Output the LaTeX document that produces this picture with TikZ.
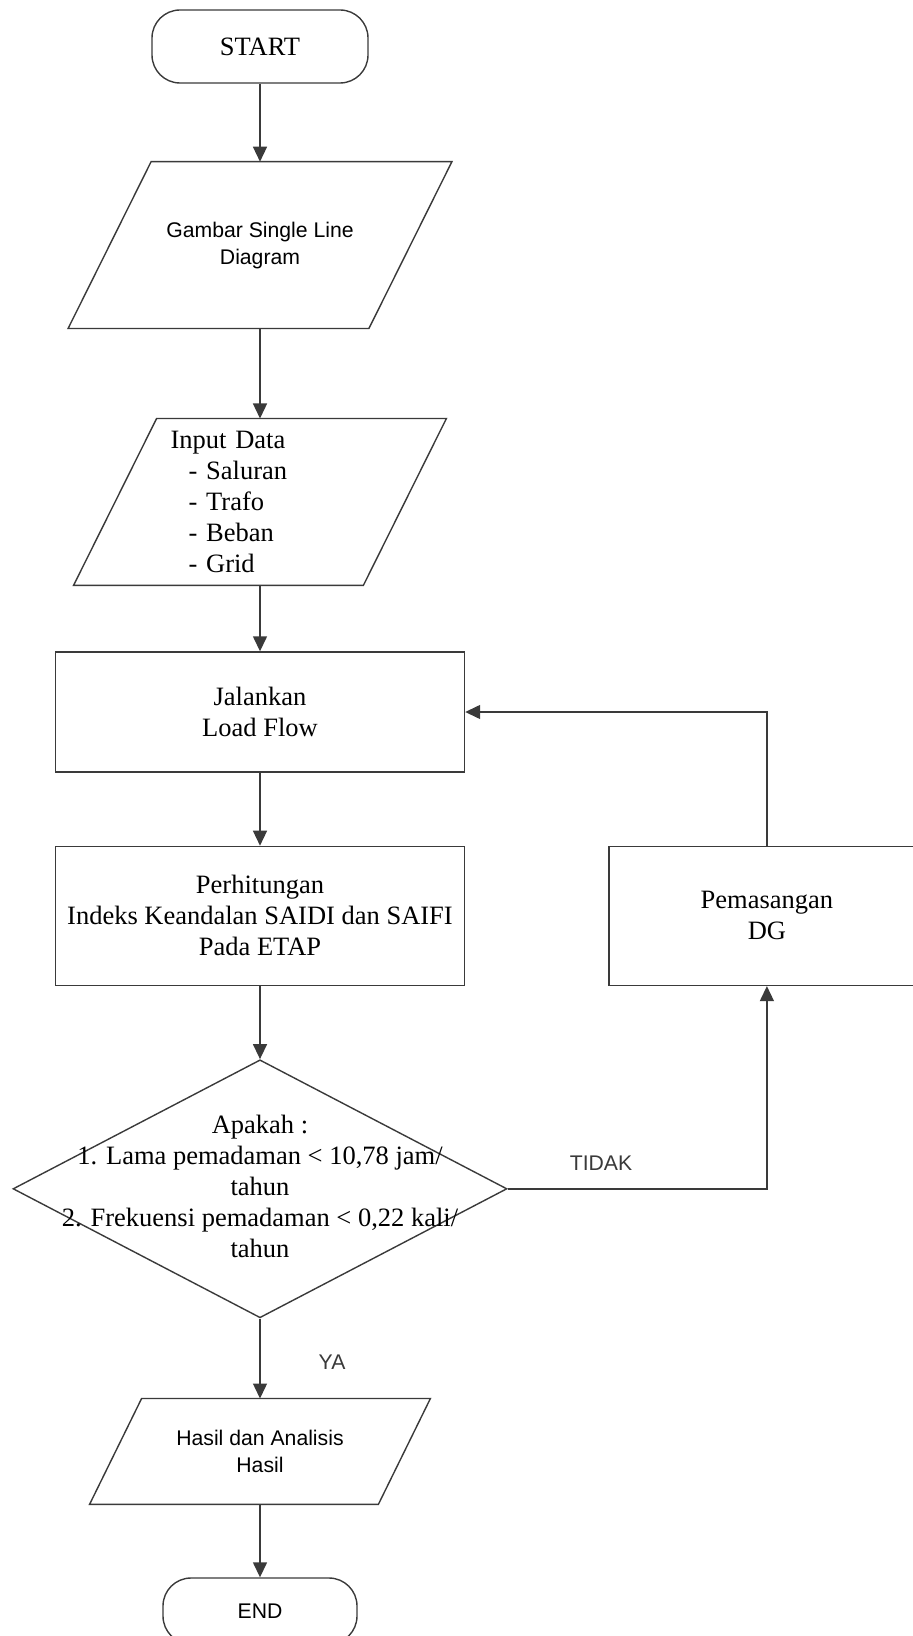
\documentclass[tikz,border=0pt]{standalone}
\usepackage{fontspec}
\setmainfont{Liberation Serif}
\setsansfont{Liberation Sans}
\usetikzlibrary{arrows.meta,positioning,shapes.geometric}
\definecolor{flowink}{HTML}{3A3A3A}
\tikzset{
  term/.style={draw=flowink, line width=0.7pt, rounded corners=14pt, minimum height=36.5pt, align=center},
  proc/.style={draw=flowink, line width=0.7pt, align=center, inner sep=2pt},
  iobox/.style={align=center, inner sep=2pt},
  cond/.style={draw=flowink, line width=0.7pt, diamond, inner sep=0pt, minimum width=247pt, minimum height=129pt},
  sans/.style={font=\sffamily\fontsize{10.6}{13.5}\selectfont},
  lbl/.style={font=\sffamily\fontsize{10.6}{13.5}\selectfont, inner sep=0pt},
  arr/.style={-{Triangle[length=7.5pt,width=7pt]}, line width=0.7pt, color=flowink},
}
\newcommand{\iopara}[2]{\draw[line width=0.7pt, flowink] ([xshift=#2]#1.north west) -- ([xshift=#2]#1.north east) -- ([xshift=-#2]#1.south east) -- ([xshift=-#2]#1.south west) -- cycle;}

\begin{document}
\begin{tikzpicture}[x=0.5pt, y=-0.5pt, font=\fontsize{13.25}{15.5}\selectfont]
    \useasboundingbox (0,0) rectangle (913,1636);
    \node[term, minimum width=108pt] (start) at (260,46.5) {START};
    \node[iobox, sans, minimum width=150pt, minimum height=83pt, below=39pt of start] (gambar) {Gambar Single Line\\Diagram};
    \node[iobox, align=left, text width=89.5pt, inner xsep=27.5pt, inner ysep=0pt, minimum height=83pt, below=45pt of gambar] (input) {Input Data\\\hspace*{9pt}- Saluran\\\hspace*{9pt}- Trafo\\\hspace*{9pt}- Beban\\\hspace*{9pt}- Grid};
    \node[proc, minimum width=204.5pt, minimum height=60pt, below=33pt of input] (jalan) {Jalankan\\Load Flow};
    \node[proc, minimum width=204.5pt, minimum height=69.5pt, below=36.5pt of jalan] (hitung) {Perhitungan\\Indeks Keandalan SAIDI dan SAIFI\\Pada ETAP};
    \node[proc, minimum width=158pt, minimum height=69.5pt, right=71.5pt of hitung] (dg) {Pemasangan\\DG};
    \node[cond, below=36.5pt of hitung] (cek) {\makebox[0pt]{\begin{tabular}{@{}c@{}}Apakah :\\1. Lama pemadaman < 10,78 jam/\\tahun\\2. Frekuensi pemadaman < 0,22 kali/\\tahun\end{tabular}}};
    \node[iobox, sans, minimum width=144pt, minimum height=52.5pt, below=40pt of cek] (hasil) {Hasil dan Analisis\\Hasil};
    \node[term, sans, minimum width=97pt, minimum height=33pt, below=36.5pt of hasil] (end) {END};
    \iopara{gambar}{20.75pt}
    \iopara{input}{20.75pt}
    \iopara{hasil}{13pt}
    \draw[arr] (start.south) -- (gambar.north);
    \draw[arr] (gambar.south) -- (input.north);
    \draw[arr] (input.south) -- (jalan.north);
    \draw[arr] (jalan.south) -- (hitung.north);
    \draw[arr] (hitung.south) -- (cek.north);
    \draw[arr] (cek.south) -- node[lbl, right=29pt, yshift=-2pt] {YA} (hasil.north);
    \draw[arr] (hasil.south) -- (end.north);
    \draw[arr] (cek.east) -| node[lbl, pos=0.18, above=9pt] {TIDAK} (dg.south);
    \draw[arr] (dg.north) |- (jalan.east);
\end{tikzpicture}
\end{document}
